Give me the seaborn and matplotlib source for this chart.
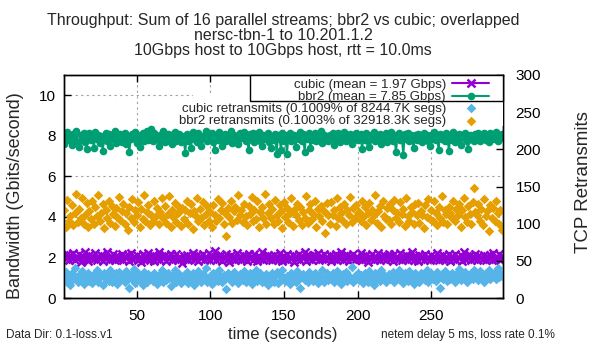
import numpy as np
import pandas as pd
import matplotlib
matplotlib.use("Agg")
import matplotlib.pyplot as plt
from matplotlib.patches import Rectangle
import seaborn as sns

# throughput per second (Gbps)
cubic_gbps = [
    2.05, 1.92, 2.18, 1.85, 2.10, 1.97, 2.22, 1.88, 2.03, 1.95, 2.15, 1.80, 2.08, 1.99, 2.25, 1.90, 1.84, 2.12, 1.96, 2.05,
    1.93, 2.20, 1.87, 2.02, 1.98, 2.14, 1.82, 2.07, 1.95, 2.28, 1.89, 2.01, 1.94, 2.16, 1.86, 2.09, 1.97, 2.03, 1.91, 2.19,
    1.85, 2.06, 1.99, 2.11, 1.83, 2.24, 1.92, 2.00, 1.96, 2.13, 1.88, 2.04, 1.79, 2.17, 1.94, 2.08, 1.90, 2.21, 1.87, 1.98,
    2.10, 1.84, 2.05, 1.93, 2.26, 1.89, 2.02, 1.97, 2.12, 1.81, 2.07, 1.95, 2.15, 1.86, 2.00, 1.92, 2.18, 1.88, 2.04, 1.96,
    1.75, 2.09, 1.91, 2.14, 1.85, 2.03, 1.98, 2.23, 1.90, 1.94, 2.11, 1.83, 2.06, 1.99, 2.16, 1.87, 2.01, 1.93, 2.20, 1.89,
    2.05, 1.95, 2.30, 1.86, 2.08, 1.92, 2.13, 1.84, 2.02, 1.97, 2.17, 1.90, 1.80, 2.10, 1.94, 2.04, 1.88, 2.22, 1.96, 2.00,
    1.87, 2.12, 1.93, 2.06, 1.82, 2.19, 1.95, 2.01, 1.89, 2.15, 1.98, 1.84, 2.09, 1.92, 2.27, 1.86, 2.03, 1.96, 2.11, 1.90,
    2.07, 1.85, 2.14, 1.94, 2.00, 1.88, 2.21, 1.97, 1.83, 2.08, 1.91, 2.16, 1.86, 2.04, 1.99, 2.12, 1.78, 2.06, 1.93, 2.18,
    1.89, 2.02, 1.96, 2.25, 1.84, 2.10, 1.92, 2.05, 1.87, 2.13, 1.95, 1.99, 2.20, 1.85, 2.07, 1.93, 2.15, 1.90, 2.01, 1.97,
    2.11, 1.83, 2.06, 1.94, 2.19, 1.88, 2.03, 1.96, 2.29, 1.86, 2.09, 1.91, 2.14, 1.82, 2.05, 1.98, 2.17, 1.89, 2.02, 1.95,
    1.92, 2.23, 1.87, 2.08, 1.93, 2.12, 1.80, 2.04, 1.97, 2.16, 1.89, 2.01, 1.94, 2.20, 1.85, 2.07, 1.99, 2.10, 1.88, 2.03,
    2.15, 1.91, 2.06, 1.84, 2.18, 1.96, 2.00, 1.90, 2.24, 1.87, 2.09, 1.93, 2.13, 1.86, 2.02, 1.97, 2.28, 1.89, 2.05, 1.92,
    1.83, 2.11, 1.95, 2.07, 1.88, 2.17, 1.94, 2.03, 1.85, 2.14, 1.98, 2.01, 1.90, 2.21, 1.86, 2.08, 1.93, 2.12, 1.87, 2.04,
    1.96, 2.19, 1.82, 2.06, 1.92, 2.15, 1.89, 2.02, 1.97, 2.10, 1.84, 2.25, 1.91, 2.05, 1.95, 2.13, 1.88, 2.00, 1.94, 2.17,
    1.86, 2.09, 1.99, 2.03, 1.90, 2.14, 1.87, 2.07, 1.93, 2.11, 1.85, 2.20, 1.92, 2.04, 1.96, 2.16, 1.89, 2.06,
]
bbr2_gbps = [
    7.62, 7.95, 8.18, 7.80, 8.05, 7.55, 8.10, 7.72, 8.22, 7.68, 7.45, 8.02, 7.88, 8.15, 7.70, 7.35, 7.92, 8.12, 7.78, 8.00,
    7.40, 8.20, 7.85, 8.05, 7.66, 7.98, 7.25, 7.90, 8.16, 7.74, 8.08, 7.52, 8.04, 7.82, 8.24, 7.64, 7.96, 7.76, 8.10, 7.70,
    7.92, 8.14, 7.58, 8.00, 7.20, 7.84, 8.10, 7.88, 8.20, 7.66, 8.02, 7.45, 7.86, 8.12, 7.74, 7.98, 8.26, 7.80, 8.04, 8.35,
    7.72, 8.16, 7.86, 7.96, 7.50, 8.06, 7.78, 8.22, 7.70, 7.92, 8.10, 7.76, 8.02, 7.60, 7.94, 8.18, 7.74, 7.88, 8.08, 7.68,
    7.98, 7.82, 7.15, 8.10, 7.76, 7.96, 7.42, 8.20, 7.86, 8.04, 7.70, 8.14, 7.80, 7.48, 8.00, 7.90, 8.22, 7.74, 8.06, 7.84,
    8.12, 7.70, 7.30, 8.04, 7.80, 8.18, 7.88, 7.52, 7.96, 8.10, 7.74, 8.00, 7.84, 8.24, 7.66, 8.06, 7.80, 7.94, 7.58, 8.14,
    7.88, 8.02, 8.20, 7.72, 7.96, 7.28, 8.08, 7.78, 8.16, 7.68, 8.00, 7.90, 8.18, 7.76, 7.48, 8.06, 7.82, 7.96, 8.12, 7.70,
    7.38, 7.98, 7.80, 8.08, 7.12, 8.02, 7.84, 7.32, 8.12, 7.74, 8.04, 7.10, 7.92, 8.16, 7.72, 7.88, 8.06, 7.46, 7.98, 7.82,
    8.20, 7.76, 8.08, 7.22, 7.96, 7.86, 8.14, 7.40, 8.04, 7.80, 8.12, 7.72, 8.00, 7.90, 8.22, 7.66, 8.06, 7.84, 7.98, 7.74,
    8.04, 7.88, 8.16, 7.56, 8.00, 7.82, 8.12, 7.70, 7.96, 7.90, 8.20, 7.74, 8.06, 7.84, 8.10, 7.62, 7.98, 7.86, 8.16, 7.78,
    7.84, 8.08, 7.36, 7.96, 7.80, 8.12, 7.72, 7.46, 8.02, 7.88, 8.18, 7.76, 8.04, 7.80, 8.10, 7.58, 7.98, 7.84, 8.14, 7.70,
    8.00, 7.86, 8.20, 7.74, 8.06, 7.18, 7.92, 8.12, 7.80, 7.98, 7.05, 8.08, 7.84, 8.16, 7.72, 8.02, 7.88, 7.40, 8.06, 7.78,
    8.10, 7.80, 7.98, 7.70, 8.14, 7.86, 8.02, 7.76, 7.50, 8.06, 7.84, 8.18, 7.78, 7.96, 7.30, 8.08, 7.82, 8.02, 7.72, 8.14,
    7.88, 7.26, 8.06, 7.78, 8.18, 7.70, 7.98, 7.84, 8.10, 7.56, 8.02, 7.88, 8.14, 7.74, 7.36, 8.06, 7.82, 7.98, 7.72, 8.10,
    7.84, 8.16, 7.76, 8.04, 7.88, 8.12, 7.80, 7.98, 7.70, 8.14, 7.84, 8.06, 7.82, 8.18, 7.76, 8.00, 7.88, 8.10,
]

# retransmits per second (right axis)
cubic_retrans = [
    28, 35, 22, 30, 18, 33, 25, 40, 27, 21, 31, 24, 36, 19, 29, 26, 34, 23, 30, 20,
    32, 25, 38, 22, 28, 31, 17, 34, 26, 29, 23, 37, 21, 30, 27, 33, 19, 35, 24, 28,
    30, 22, 36, 26, 14, 31, 25, 39, 20, 28, 33, 24, 29, 18, 35, 27, 22, 32, 26, 30,
    23, 34, 28, 19, 31, 26, 37, 21, 29, 24, 33, 27, 16, 30, 25, 38, 22, 28, 32, 20,
    27, 31, 24, 35, 20, 29, 26, 33, 18, 30, 23, 36, 28, 21, 32, 25, 41, 22, 27, 30,
    19, 34, 26, 29, 23, 37, 28, 21, 31, 25, 12, 33, 27, 30, 22, 35, 24, 28, 20, 32,
    29, 24, 36, 22, 30, 27, 33, 19, 31, 26, 38, 23, 28, 34, 21, 29, 25, 32, 18, 30,
    26, 33, 22, 29, 35, 20, 31, 24, 37, 27, 23, 30, 28, 19, 34, 26, 31, 22, 36, 25,
    13, 28, 32, 24, 30, 21, 35, 27, 29, 23, 33, 26, 20, 31, 25, 38, 22, 28, 34, 24,
    30, 26, 33, 21, 29, 36, 24, 28, 19, 32, 27, 35, 23, 30, 25, 42, 21, 29, 26, 33,
    24, 31, 27, 20, 34, 28, 22, 36, 26, 30, 18, 33, 25, 29, 23, 37, 27, 31, 21, 28,
    32, 25, 29, 35, 22, 30, 26, 38, 24, 31, 20, 34, 28, 23, 36, 27, 30, 19, 33, 26,
    28, 22, 34, 27, 31, 24, 37, 21, 29, 33, 26, 30, 23, 35, 28, 14, 32, 25, 36, 27,
    23, 30, 26, 34, 29, 21, 32, 28, 39, 24, 31, 27, 35, 22, 30, 26, 33, 25, 37, 29,
    31, 24, 36, 28, 30, 22, 34, 27, 38, 25, 32, 29, 35, 26, 40, 28, 33, 30,
]
bbr2_retrans = [
    118, 95, 132, 104, 110, 125, 98, 115, 140, 102, 120, 108, 135, 100, 112, 128, 96, 117, 106, 130,
    99, 122, 110, 138, 103, 115, 126, 94, 119, 108, 131, 101, 124, 113, 97, 121, 109, 136, 105, 117,
    127, 100, 114, 92, 123, 108, 133, 102, 118, 111, 129, 96, 120, 106, 139, 103, 116, 125, 98, 112,
    104, 130, 110, 121, 99, 116, 134, 107, 124, 101, 113, 137, 95, 119, 109, 128, 102, 115, 122, 97,
    121, 106, 118, 131, 100, 114, 126, 93, 117, 110, 135, 104, 120, 108, 129, 98, 113, 124, 103, 116,
    96, 125, 112, 103, 133, 107, 119, 128, 99, 115, 84, 121, 109, 130, 101, 117, 123, 105, 138, 111,
    119, 102, 127, 110, 98, 124, 113, 136, 104, 118, 106, 131, 95, 116, 122, 108, 140, 100, 114, 126,
    107, 120, 99, 132, 111, 103, 125, 117, 94, 129, 109, 121, 102, 115, 134, 97, 118, 112, 127, 105,
    123, 98, 116, 108, 137, 101, 119, 126, 106, 113, 130, 96, 120, 110, 124, 103, 117, 88, 128, 111,
    100, 129, 112, 119, 97, 134, 108, 122, 115, 104, 127, 99, 118, 111, 136, 102, 121, 107, 125, 114,
    116, 103, 131, 109, 122, 98, 114, 128, 105, 119, 112, 138, 101, 117, 124, 95, 130, 110, 106, 121,
    105, 126, 99, 118, 132, 108, 115, 102, 129, 113, 120, 97, 135, 110, 104, 123, 116, 100, 127, 111,
    128, 101, 117, 112, 94, 125, 109, 133, 106, 119, 103, 130, 114, 98, 122, 108, 137, 102, 118, 113,
    99, 123, 115, 107, 131, 104, 120, 111, 126, 96, 118, 135, 109, 102, 124, 113, 100, 129, 148, 116,
    112, 127, 104, 120, 98, 133, 110, 117, 90, 125, 107, 121, 103, 130, 114, 99, 119, 92,
]

labels = [
    "cubic (mean = 1.97 Gbps)",
    "bbr2 (mean = 7.85 Gbps)",
    "cubic retransmits (0.1009% of 8244.7K segs)",
    "bbr2 retransmits (0.1003% of 32918.3K segs)",
]
x_ticks = [50, 100, 150, 200, 250]
y_ticks = [0, 2, 4, 6, 8, 10]
y2_ticks = [0, 50, 100, 150, 200, 250, 300]

PURPLE = "#9400d3"
GREEN = "#009e73"
BLUE = "#56b4e9"
ORANGE = "#e69f00"

sns.set_theme(style="white")
plt.rcParams["font.family"] = ["Liberation Sans", "DejaVu Sans"]
plt.rcParams["axes.edgecolor"] = "black"
plt.rcParams["axes.linewidth"] = 1.0

fig = plt.figure(figsize=(6, 3.5), dpi=100)
ax = fig.add_axes([64 / 600, 52 / 350, 439 / 600, 223 / 350])
ax2 = ax.twinx()

sns.lineplot(x=np.arange(len(cubic_gbps)) + 1, y=cubic_gbps, ax=ax, color=PURPLE,
             lw=1.5, marker="x", markersize=5.5, markeredgewidth=1.8,
             markeredgecolor=PURPLE, label=labels[0], legend=False)
sns.lineplot(x=np.arange(len(bbr2_gbps)) + 1, y=bbr2_gbps, ax=ax, color=GREEN,
             lw=1.5, marker="o", markersize=5.5, markeredgewidth=0,
             label=labels[1], legend=False)
sns.scatterplot(x=np.arange(len(cubic_retrans)) + 1, y=cubic_retrans, ax=ax2,
                color=BLUE, marker="D", s=24, linewidth=0, label=labels[2], legend=False)
sns.scatterplot(x=np.arange(len(bbr2_retrans)) + 1, y=bbr2_retrans, ax=ax2,
                color=ORANGE, marker="D", s=24, linewidth=0, label=labels[3], legend=False)

ax.set_xlim(0.7, 298.7)
ax.set_ylim(0, 11)
ax2.set_ylim(0, 300)
ax.set_xticks(x_ticks)
ax.set_yticks(y_ticks)
ax2.set_yticks(y2_ticks)
ax.set_xlabel("")
ax.set_ylabel("")
ax2.set_ylabel("")

ax.grid(True, color="#a0a0a0", ls=(0, (2, 3)), lw=0.8)
ax2.grid(False)
ax.tick_params(axis="x", direction="in", length=5, width=1, labelsize=11, pad=8,
               bottom=True, top=True, colors="black")
ax.tick_params(axis="y", direction="in", length=5, width=1, labelsize=11, pad=6,
               left=True, right=False, colors="black")
ax2.tick_params(axis="y", direction="in", length=5, width=1, labelsize=11, pad=9,
                right=True, colors="black")

# key boxes: bordered one for throughput, plain white one for retransmits
ax2.add_patch(Rectangle((0.2938, 0.7713), 0.7062, 0.1435, transform=ax2.transAxes,
                        facecolor="white", edgecolor="none", zorder=3, clip_on=False))
ax2.add_patch(Rectangle((0.4237, 0.8834), 0.5763, 0.1166, transform=ax2.transAxes,
                        facecolor="white", edgecolor="black", lw=1.0, zorder=3.5, clip_on=False))

h1, l1 = ax.get_legend_handles_labels()
h2, l2 = ax2.get_legend_handles_labels()
leg_kw = dict(loc="upper right", borderaxespad=0, markerfirst=False, frameon=False,
              fontsize=9.5, handlelength=2.8, labelspacing=0.0, borderpad=0.2,
              handletextpad=0.5)
leg1 = ax2.legend(h1, l1, bbox_to_anchor=(0.975, 0.995), **leg_kw)
leg1.set_zorder(5)
ax2.add_artist(leg1)
leg2 = ax2.legend(h2, l2, bbox_to_anchor=(0.975, 0.888), scatterpoints=1, **leg_kw)
leg2.set_zorder(5)

fig.text(283 / 600, 1 - 20 / 350, "Throughput: Sum of 16 parallel streams; bbr2 vs cubic; overlapped",
         ha="center", va="center", fontsize=11.5)
fig.text(283 / 600, 1 - 35 / 350, "nersc-tbn-1 to 10.201.1.2", ha="center", va="center", fontsize=11.5)
fig.text(283 / 600, 1 - 50 / 350, "10Gbps host to 10Gbps host, rtt = 10.0ms", ha="center", va="center", fontsize=11.5)

fig.text(16 / 600, 1 - 196 / 350, "Bandwidth (Gbits/second)", rotation=90, ha="center", va="center", fontsize=13)
fig.text(584 / 600, 1 - 182 / 350, "TCP Retransmits", rotation=90, ha="center", va="center", fontsize=13.5)
fig.text(283 / 600, 1 - 334 / 350, "time (seconds)", ha="center", va="center", fontsize=12)
fig.text(6 / 600, 1 - 335 / 350, "Data Dir: 0.1-loss.v1", ha="left", va="center", fontsize=8.5)
fig.text(381 / 600, 1 - 335 / 350, "netem delay 5 ms, loss rate 0.1%", ha="left", va="center", fontsize=8.5)

fig.savefig("out.png", dpi=100)
